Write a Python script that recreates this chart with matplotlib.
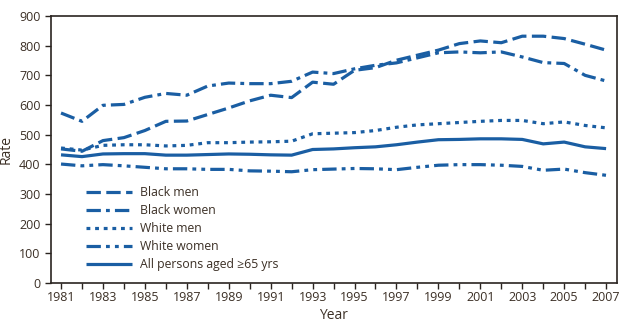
import numpy as np
import matplotlib.pyplot as plt

# Data
years = np.arange(1981, 2008)
black_men = [452, 444, 480, 490, 514, 545, 546, 568, 590, 614, 633, 625, 677, 670, 717,
             726, 751, 768, 785, 807, 816, 810, 832, 832, 824, 805, 785]
black_women = [573, 545, 599, 602, 626, 639, 633, 664, 674, 672, 672, 680, 711, 706, 722,
               734, 742, 759, 776, 779, 776, 779, 762, 743, 740, 700, 681]
white_men = [455, 448, 464, 466, 466, 462, 464, 473, 473, 475, 476, 478, 503, 505, 507,
             514, 525, 533, 537, 541, 545, 548, 548, 537, 543, 531, 523]
white_women = [401, 395, 399, 395, 390, 385, 385, 383, 383, 378, 377, 375, 382, 384, 386,
               385, 382, 390, 397, 399, 399, 397, 393, 380, 384, 372, 363]
all_persons = [432, 426, 435, 436, 436, 431, 431, 433, 435, 434, 432, 431, 450, 452, 456,
               459, 466, 475, 483, 484, 486, 486, 484, 469, 475, 459, 453]

labels = ['Black men', 'Black women', 'White men', 'White women', 'All persons aged \u226565 yrs']
styles = [(0, (4.5, 1.7)),
          (0, (4.5, 1.6, 1.2, 1.6)),
          (0, (1.2, 1.5)),
          (0, (4.5, 1.6, 1.2, 1.6, 1.2, 1.6)),
          '-']
series = [black_men, black_women, white_men, white_women, all_persons]

blue = '#1a5ea3'
txt = '#3b2f25'
plt.rcParams['font.family'] = ['Open Sans', 'DejaVu Sans']

fig = plt.figure(figsize=(6.37, 3.27), dpi=100)
ax = fig.add_axes([0.080, 0.1346, 0.8886, 0.8164])

for vals, ls, lab in zip(series, styles, labels):
    ax.plot(years, vals, color=blue, lw=2.3, linestyle=ls, label=lab,
            dash_capstyle='butt', solid_capstyle='butt')

ax.set_xlim(1980.52, 2007.52)
ax.set_ylim(0, 900)
ax.set_yticks(range(0, 901, 100))
ax.set_xticks(years)
ax.set_xticklabels([str(y) if (y - 1981) % 2 == 0 else '' for y in years])

for s in ax.spines.values():
    s.set_color('#2a2420')
    s.set_linewidth(1.2)
ax.tick_params(colors='#2a2420', labelcolor=txt, labelsize=9, length=4, width=1)
ax.tick_params(axis='x', pad=2)

ax.set_xlabel('Year', color=txt, fontsize=10, labelpad=3)
ax.set_ylabel('Rate', color=txt, fontsize=10, labelpad=4)

leg = ax.legend(loc='lower left', bbox_to_anchor=(0.042, 0.0), frameon=False,
                fontsize=8.8, handlelength=3.7, handletextpad=0.7,
                labelspacing=0.42, borderaxespad=0.55)
for t in leg.get_texts():
    t.set_color(txt)

fig.savefig('out.png', dpi=100)
